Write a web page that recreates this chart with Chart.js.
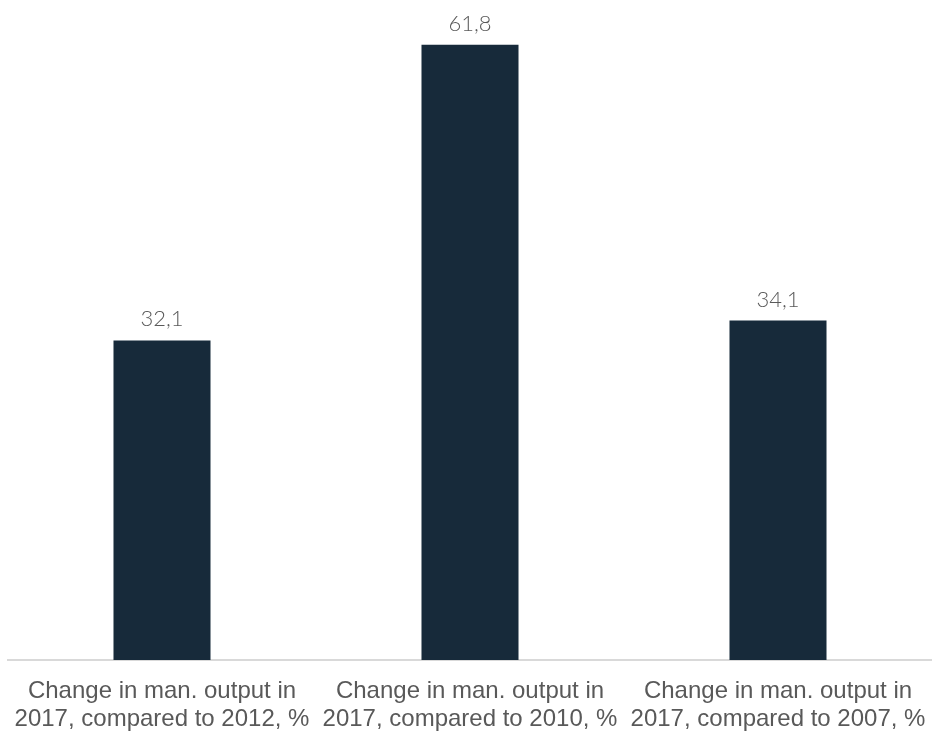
<!DOCTYPE html>
<html>
<head>
<meta charset="utf-8">
<script src="https://cdn.jsdelivr.net/npm/chart.js@4.4.1/dist/chart.umd.min.js"></script>
<style>
  html, body { margin: 0; padding: 0; background: #fff; }
  #wrap { width: 932px; height: 733px; position: relative; }
</style>
</head>
<body>
<div id="wrap"><canvas id="chart"></canvas></div>
<script>
// Kategoriler (iki satırlık etiketler)
const categories = [
  ['Change in man. output in', '2017, compared to 2012, %'],
  ['Change in man. output in', '2017, compared to 2010, %'],
  ['Change in man. output in', '2017, compared to 2007, %'],
];
const values = [32.1, 61.8, 34.1];

const BAR_COLOR = '#172a3a';
const TEXT_GRAY = '#595959';

/**
 * Bar üstü değer etiketleri (virgüllü ondalık)
 */
const valueLabels = {
  id: 'valueLabels',
  afterDatasetsDraw(chart) {
    const { ctx } = chart;
    const meta = chart.getDatasetMeta(0);
    ctx.save();
    ctx.font = '300 22px Lato, "Open Sans", sans-serif';
    ctx.fillStyle = TEXT_GRAY;
    ctx.textAlign = 'center';
    ctx.textBaseline = 'alphabetic';
    meta.data.forEach((bar, i) => {
      const txt = values[i].toFixed(1).replace('.', ',');
      ctx.fillText(txt, bar.x, bar.y - 14);
    });
    ctx.restore();
  },
};

const ctx = document.getElementById('chart').getContext('2d');
new Chart(ctx, {
  type: 'bar',
  data: {
    labels: categories,
    datasets: [{
      data: values,
      backgroundColor: BAR_COLOR,
      borderWidth: 0,
      barPercentage: 0.315,
      categoryPercentage: 1,
    }],
  },
  options: {
    responsive: true,
    maintainAspectRatio: false,
    animation: false,
    layout: { padding: { left: 8, right: -3, top: 0, bottom: 0 } },
    plugins: { legend: { display: false }, tooltip: { enabled: false } },
    scales: {
      x: {
        grid: { display: false, drawTicks: false },
        border: { display: true, color: '#d9d9d9', width: 2 },
        ticks: {
          color: TEXT_GRAY,
          font: { family: '"Liberation Sans", Arial, sans-serif', size: 24, lineHeight: 28 / 24 },
          padding: 17,
          maxRotation: 0,
          minRotation: 0,
          autoSkip: false,
        },
        afterFit(scale) {
          scale.height = 73;
          scale.paddingLeft = 0;
          scale.paddingRight = 0;
        },
      },
      y: {
        display: false,
        min: 0,
        max: 66.3,
      },
    },
  },
  plugins: [valueLabels],
});
</script>
</body>
</html>
